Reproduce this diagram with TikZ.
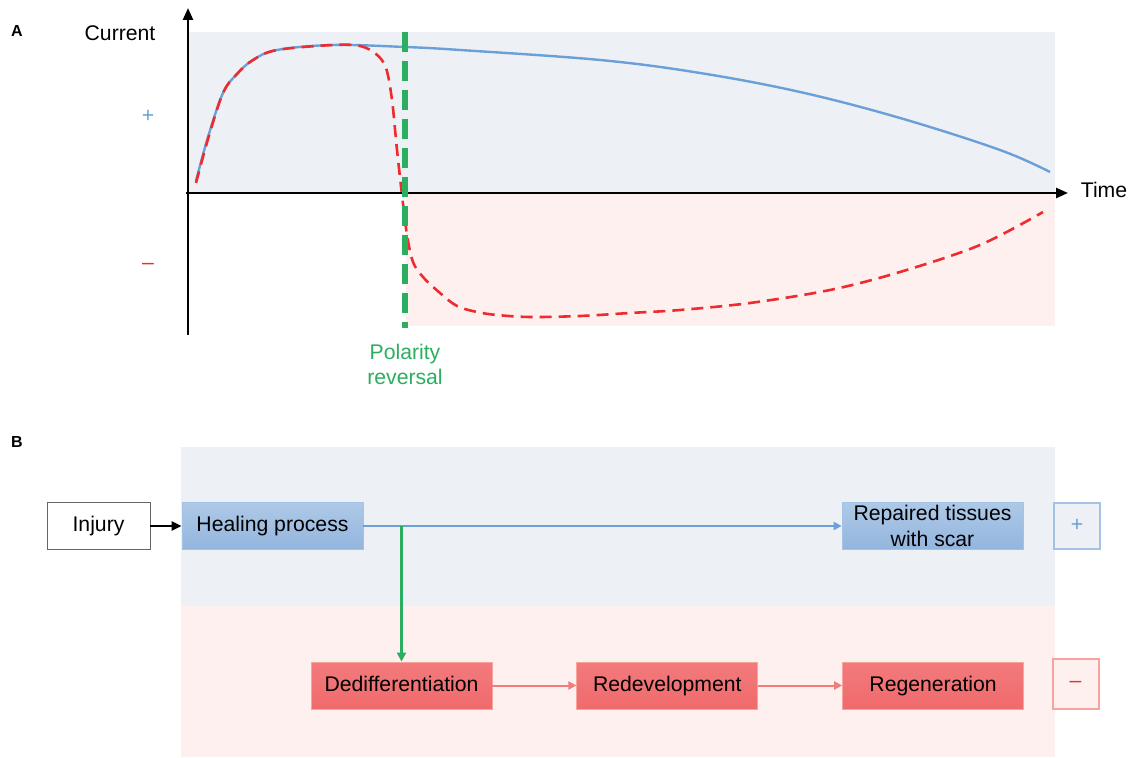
\documentclass[tikz,border=0pt]{standalone}
\usepackage{fontspec}
\setmainfont{Liberation Sans}
\usetikzlibrary{arrows.meta,positioning}

\definecolor{bgblue}{HTML}{EDF1F6}
\definecolor{bgpink}{HTML}{FDF0EF}
\definecolor{curveblue}{HTML}{6A9FD8}
\definecolor{curvered}{HTML}{EE2B2E}
\definecolor{revgreen}{HTML}{2BAE5F}
\definecolor{boxbluetop}{HTML}{AEC9E7}
\definecolor{boxbluebot}{HTML}{93B5DE}
\definecolor{boxblueline}{HTML}{A3C2E6}
\definecolor{boxredtop}{HTML}{F37A7C}
\definecolor{boxredbot}{HTML}{F06A6C}
\definecolor{boxredline}{HTML}{F7A49E}
\definecolor{flowred}{HTML}{F07C7C}

\begin{document}
\begin{tikzpicture}
  [x=0.5pt, y=-0.5pt,
   font=\fontsize{10.6}{12.8}\selectfont,
   axis/.style={line width=1.2pt, -{Triangle[length=6pt,width=5pt]}},
   stage/.style={minimum width=90.5pt, minimum height=23.5pt, inner sep=0pt,
                 text height=8pt, text depth=2.5pt},
   pos stage/.style={stage, draw=boxblueline, top color=boxbluetop, bottom color=boxbluebot},
   neg stage/.style={stage, draw=boxredline, top color=boxredtop, bottom color=boxredbot},
   sign/.style={minimum width=23pt, minimum height=23pt, inner sep=0pt, line width=1pt},
   pos flow/.style={->, >={Triangle[length=4pt,width=4pt]}, curveblue, line width=1pt},
   neg flow/.style={->, >={Triangle[length=4pt,width=4pt]}, flowred, line width=1pt},
   panel/.style={font=\fontsize{8}{9}\selectfont\bfseries}]

  \useasboundingbox (0,0) rectangle (1133,758);

  % panel A
  \fill[bgblue] (188,32) rectangle (1055,192);
  \fill[bgpink] (406,194) rectangle (1055,326);

  \node[panel] (labelA) at (17,31) {A};
  \node (current) at (120,33) {Current};
  \node[text=curveblue] (plusA) at (148,116) {+};
  \node[text=curvered] (minusA) at (148,266) {–};
  \node (time) at (1104,190) {Time};

  \draw[curveblue, line width=1.2pt] plot[smooth, tension=0.6] coordinates
    {(196,181) (208,137) (223,93) (237,74) (253,60) (277,50) (333,45) (405,47)
     (460,50) (600,60) (700,73) (800,92) (900,118) (1000,150) (1050,172)};
  \draw[curvered, line width=1.3pt, dash pattern=on 6pt off 3.5pt] plot[smooth, tension=0.55] coordinates
    {(196,183) (208,139) (223,93) (237,74) (253,60) (277,50) (333,45) (360,46)
     (376,54) (386,68) (392,100) (397,150) (402,195) (407,235) (413,262) (423,277)
     (440,293) (457,306) (477,312) (497,315) (530,317) (580,316) (630,313) (680,310)
     (750,303) (830,290) (900,272) (980,245) (1043,212)};

  \draw[axis] (188,335) -- (188,8);
  \draw[axis] (186,193) -- (1068,193);

  \draw[revgreen, line width=3pt, dash pattern=on 10pt off 4.5pt] (405,32) -- (405,328);
  \node[text=revgreen, align=center, font=\fontsize{10.6}{12.5}\selectfont] (reversal) at (405,364)
    {Polarity\\reversal};

  % panel B
  \fill[bgblue] (181,447) rectangle (1055,606);
  \fill[bgpink] (181,606) rectangle (1055,757);

  \node[panel] (labelB) at (17,442) {B};

  \node[stage, draw=black!60, fill=white, minimum width=51.5pt] (injury) at (98.5,526) {Injury};
  \node[pos stage] (healing) at (272.5,526) {Healing process};
  \node[pos stage, text height={}, text depth={}, align=center] (repaired) at (932.5,526)
    {Repaired tissues\\with scar};
  \node[sign, draw=boxblueline, fill=bgblue, text=curveblue] (plusB) at (1077,525.5) {+};

  \node[neg stage] (dediff) at (401.5,685.5) {Dedifferentiation};
  \node[neg stage] (redev) [right=42pt of dediff] {Redevelopment};
  \node[neg stage] (regen) [right=42pt of redev] {Regeneration};
  \node[sign, draw=boxredline, fill=bgpink, text=curvered, minimum height=25pt] (minusB) at (1075.5,684) {–};

  \draw[->, >={Triangle[length=5pt,width=4.5pt]}, line width=1.1pt] (injury) -- (healing);
  \draw[pos flow] (healing) -- (repaired);
  \draw[->, >={Triangle[length=4.5pt,width=4.5pt]}, revgreen, line width=1.1pt]
    (dediff.north |- healing.east) -- (dediff.north);
  \draw[neg flow] (dediff) -- (redev);
  \draw[neg flow] (redev) -- (regen);
\end{tikzpicture}
\end{document}
